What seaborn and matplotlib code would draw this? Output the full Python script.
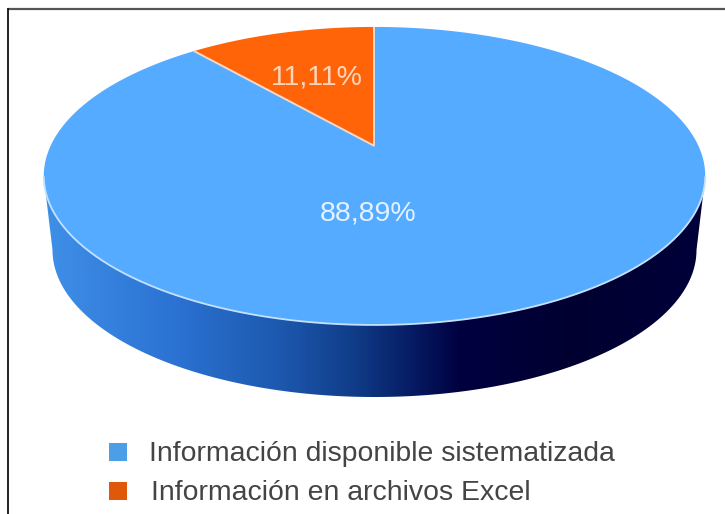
import numpy as np
import matplotlib
matplotlib.use("Agg")
import matplotlib.pyplot as plt
from matplotlib.colors import LinearSegmentedColormap
from matplotlib.patches import Polygon
import seaborn as sns

# Shares of the information sources, in percent
categories = ["Información disponible sistematizada", "Información en archivos Excel"]
shares = [88.89, 11.11]
share_labels = ["88,89%", "11,11%"]
slice_colors = ["#55ABFF", "#FF6508"]
legend_colors = ["#4C9FE6", "#E0590A"]

sns.set_theme(style="white")
plt.rcParams["font.family"] = ["Liberation Sans", "DejaVu Sans"]

W, H = 725, 514
fig = plt.figure(figsize=(W / 100, H / 100), dpi=100, facecolor="white")
ax = fig.add_axes([0, 0, 1, 1])
ax.set_xlim(0, W)
ax.set_ylim(H, 0)
ax.set_axis_off()

# Tilted disc: a unit circle seen through a projective map around the pie centre
CX, CY = 374.5, 146.0
TILT = 0.201
SCALE_X, SCALE_Y = 324.0, 143.0


def project(theta):
    """Clockwise angle from twelve o'clock to pixel position on the top face."""
    u, v = np.sin(theta), np.cos(theta)
    d = 1 + TILT * v
    return CX + SCALE_X * u / d, CY - SCALE_Y * v / d


# Side wall: front half of the top rim joined to the lower rim
full_t = np.linspace(0, 2 * np.pi, 400)
fx, fy = project(full_t)
i_r, i_l = np.argmax(fx), np.argmin(fx)
upper_front = np.column_stack([fx[i_r:i_l + 1], fy[i_r:i_l + 1]])
low_a = np.linspace(np.pi, 0, 200)
lower_front = np.column_stack([374.5 + 322 * np.cos(low_a), 250 + 147 * np.sin(low_a)])
wall = Polygon(np.vstack([upper_front, lower_front]), closed=True,
               transform=ax.transData, facecolor="none", edgecolor="none")
ax.add_patch(wall)

wall_cmap = LinearSegmentedColormap.from_list("wall", [
    (0.00, "#3F90E8"), (0.20, "#2B72D2"), (0.36, "#1C58AE"), (0.47, "#103C88"),
    (0.56, "#061A62"), (0.63, "#000040"), (0.80, "#000030"), (1.00, "#00003A"),
])
gradient = np.linspace(0, 1, 512)[None, :]
img = ax.imshow(gradient, cmap=wall_cmap, extent=(43, 706, 400, 170), aspect="auto", zorder=1)
img.set_clip_path(wall)
ax.set_xlim(0, W)
ax.set_ylim(H, 0)

# Top face, one filled slice per share, clockwise from twelve o'clock
sweep = np.cumsum([0.0] + shares) / 100 * 2 * np.pi
for i, color in enumerate(slice_colors):
    t = np.linspace(sweep[i], sweep[i + 1], 200)
    x, y = project(t)
    ax.fill(np.r_[CX, x], np.r_[CY, y], facecolor=color, edgecolor="none", zorder=2)

# Pale seams: front rim and the two radial cuts
ax.plot(upper_front[:, 0], upper_front[:, 1], color="#C4E2FF", lw=1.3, zorder=3)
for a in sweep[1:]:
    ex, ey = project(a)
    ax.plot([CX, ex], [CY, ey], color="#F7D8C8", lw=1.4, zorder=3, solid_capstyle="butt")

ax.text(368, 213, share_labels[0], color="#E4F2FF", fontsize=20.5, ha="center", va="center", zorder=4)
ax.text(317, 77, share_labels[1], color="#FFD6BC", fontsize=20.5, ha="center", va="center", zorder=4)

# Legend
for name, color, tx, y in zip(categories, legend_colors, [149, 151], [451.5, 491]):
    ax.scatter([118], [y], marker="s", s=160, color=color, linewidths=0, zorder=4)
    ax.text(tx, y + 9.5, name, color="#444444", fontsize=20.4, ha="left", va="baseline", zorder=4)

# Frame: top and left rules only
ax.plot([8, W], [8.7, 8.7], color="#555555", lw=1.6, zorder=5, solid_capstyle="butt")
ax.plot([8, 8], [8, H], color="#111111", lw=1.3, zorder=5, solid_capstyle="butt")

fig.savefig("out.png", dpi=100, facecolor="white")
